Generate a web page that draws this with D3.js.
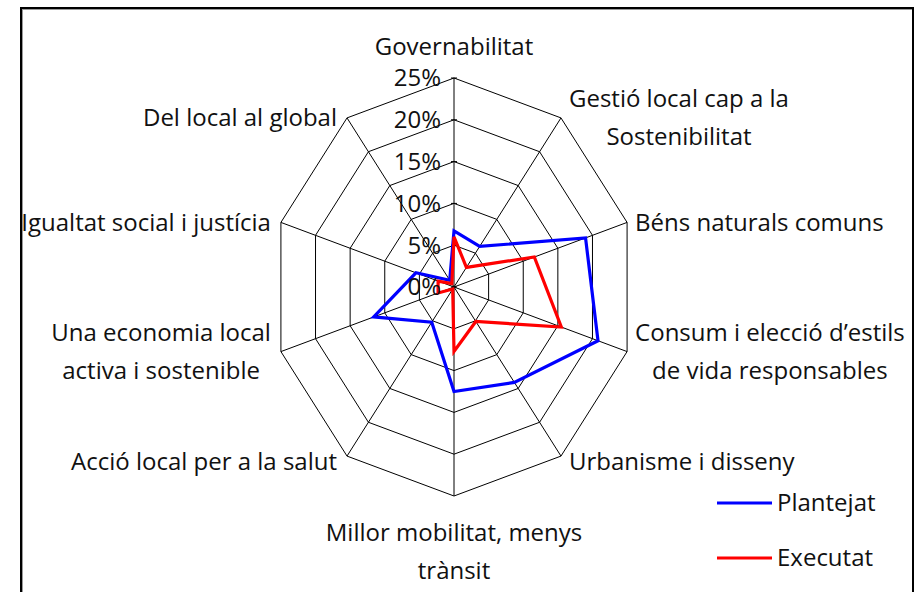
<!DOCTYPE html>
<html>
<head>
<meta charset="utf-8">
<script src="https://cdn.jsdelivr.net/npm/d3@7"></script>
<style>
  body { margin: 0; background: #fff; }
  text { font-family: "Open Sans", sans-serif; fill: #111; }
</style>
</head>
<body>
<div id="chart"></div>
<script>
var svgWidth = 919;
var svgHeight = 592;

// axis labels, clockwise from the top
var categories = [
  ["Governabilitat"],
  ["Gestió local cap a la", "Sostenibilitat"],
  ["Béns naturals comuns"],
  ["Consum i elecció d\u2019estils", "de vida responsables"],
  ["Urbanisme i disseny"],
  ["Millor mobilitat, menys", "trànsit"],
  ["Acció local per a la salut"],
  ["Una economia local", "activa i sostenible"],
  ["Igualtat social i justícia"],
  ["Del local al global"]
];

// values in %
var plantejat = [6.7, 6.0, 19.0, 20.8, 14.1, 12.5, 5.2, 11.6, 5.5, 1.0];
var executat = [6.0, 2.9, 11.6, 15.5, 5.1, 7.7, 0.3, 2.3, 2.3, 0.5];

var tickValues = [0, 5, 10, 15, 20, 25];
var seriesNames = ["Plantejat", "Executat"];
var seriesColors = ["#0000ff", "#ff0000"];

var fontSize = "24px";
var center = { x: 454, y: 287 };
var radiusX = 182;
var radiusY = 209;

var svg = d3
  .select("#chart")
  .append("svg")
  .attr("width", svgWidth)
  .attr("height", svgHeight);

// frame
svg.append("defs")
  .append("clipPath")
  .attr("id", "frameClip")
  .append("rect")
  .attr("x", 22)
  .attr("y", 9)
  .attr("width", 890)
  .attr("height", 600);

svg.append("rect")
  .attr("x", 22.5)
  .attr("y", 9.5)
  .attr("width", 890)
  .attr("height", 600)
  .attr("fill", "#fff")
  .attr("stroke", "#9a9a9a")
  .attr("stroke-width", 1);

svg.append("rect")
  .attr("x", 21)
  .attr("y", 8)
  .attr("width", 892)
  .attr("height", 610)
  .attr("fill", "none")
  .attr("stroke", "#000")
  .attr("stroke-width", 2);

var chartGroup = svg.append("g").attr("clip-path", "url(#frameClip)");

var rScale = d3.scaleLinear().domain([0, 25]).range([0, 1]);
var angle = d3
  .scaleLinear()
  .domain([0, categories.length])
  .range([0, 2 * Math.PI]);

function px(i, v) {
  return center.x + rScale(v) * radiusX * Math.sin(angle(i));
}
function py(i, v) {
  return center.y - rScale(v) * radiusY * Math.cos(angle(i));
}

var idx = d3.range(categories.length);

// rings
tickValues.slice(1).forEach(function (t) {
  chartGroup
    .append("path")
    .attr("d", d3.line()(idx.map((i) => [px(i, t), py(i, t)])) + "Z")
    .attr("fill", "none")
    .attr("stroke", "#000")
    .attr("stroke-width", 1);
});

// spokes
chartGroup
  .selectAll(".spoke")
  .data(idx)
  .enter()
  .append("line")
  .attr("x1", center.x)
  .attr("y1", center.y)
  .attr("x2", (i) => px(i, 25))
  .attr("y2", (i) => py(i, 25))
  .attr("stroke", "#000")
  .attr("stroke-width", 1);

// small ticks on the value axis
chartGroup
  .selectAll(".tickmark")
  .data(tickValues)
  .enter()
  .append("line")
  .attr("x1", center.x - 3)
  .attr("x2", center.x + 3)
  .attr("y1", (t) => py(0, t))
  .attr("y2", (t) => py(0, t))
  .attr("stroke", "#000");

// series
[plantejat, executat].forEach(function (values, s) {
  chartGroup
    .append("path")
    .attr("d", d3.line()(values.map((v, i) => [px(i, v), py(i, v)])) + "Z")
    .attr("fill", "none")
    .attr("stroke", seriesColors[s])
    .attr("stroke-width", 3.2)
    .attr("stroke-linejoin", "miter");
});

// tick labels
chartGroup
  .selectAll(".ticklabel")
  .data(tickValues)
  .enter()
  .append("text")
  .attr("x", center.x - 13)
  .attr("y", (t) => py(0, t))
  .attr("dy", "0.35em")
  .attr("text-anchor", "end")
  .style("font-size", fontSize)
  .text((t) => t + "%");

// category labels
var lineHeight = 38;
categories.forEach(function (lines, i) {
  var a = angle(i);
  var vx = px(i, 25);
  var vy = py(i, 25);
  var label = chartGroup
    .append("text")
    .style("font-size", fontSize)
    .attr("text-anchor", "middle");
  var tspans = lines.map(function (l) {
    return label.append("tspan").text(l);
  });
  var maxW = d3.max(tspans, (t) => t.node().getComputedTextLength());
  var sin = Math.sin(a);
  var blockH = lines.length * lineHeight;
  var cx, top;
  if (Math.abs(sin) < 0.01) {
    cx = vx;
    top = Math.cos(a) > 0 ? vy - 12 - blockH : vy + 18;
  } else {
    var off = sin > 0 ? 8 : -10;
    cx = sin > 0 ? vx + off + maxW / 2 : vx + off - maxW / 2;
    var shift = Math.cos(a) < -0.5 ? 6 : 0;
    top = vy + shift - blockH / 2;
  }
  tspans.forEach(function (t, k) {
    t.attr("x", cx)
      .attr("y", top + lineHeight * k + lineHeight / 2)
      .attr("dy", "0.35em");
  });
});

// legend
var legend = svg
  .selectAll(".legend")
  .data(seriesNames)
  .enter()
  .append("g")
  .attr("transform", (d, i) => `translate(717, ${503 + i * 55})`);

legend
  .append("line")
  .attr("x1", 0)
  .attr("x2", 55)
  .attr("stroke", (d, i) => seriesColors[i])
  .attr("stroke-width", 3);

legend
  .append("text")
  .attr("x", 60)
  .attr("dy", "0.35em")
  .style("font-size", fontSize)
  .text((d) => d);
</script>
</body>
</html>
